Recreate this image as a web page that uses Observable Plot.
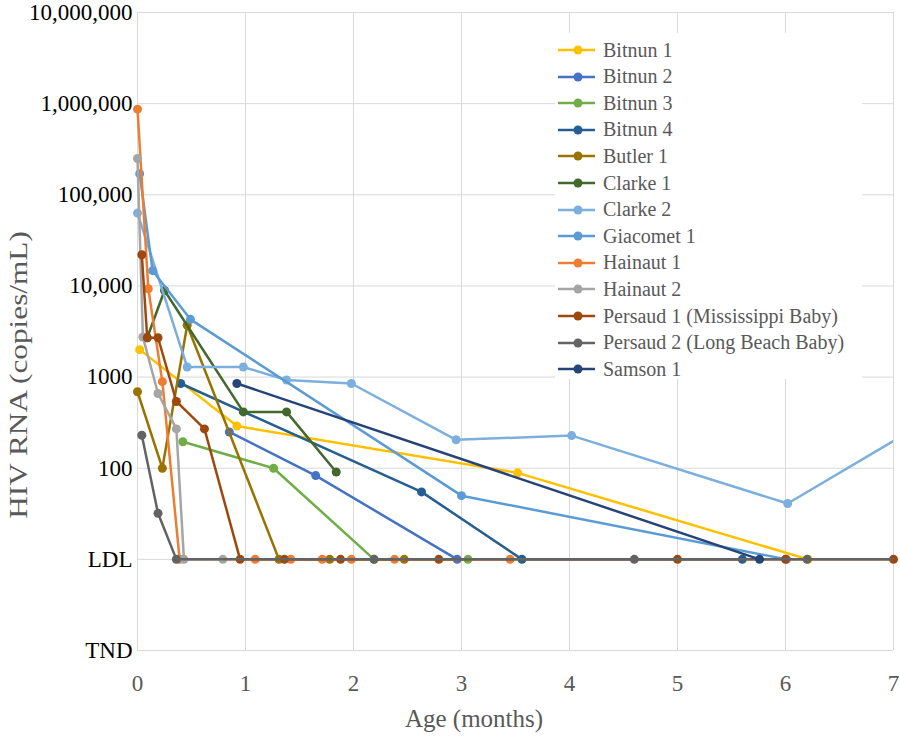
<!DOCTYPE html>
<html><head><meta charset="utf-8">
<script src="https://cdn.jsdelivr.net/npm/d3@7"></script>
<script src="https://cdn.jsdelivr.net/npm/@observablehq/plot@0.6"></script>
<style>
body{margin:0;background:#fff;}
#wrap{position:relative;width:900px;height:736px;font-family:'Liberation Serif','DejaVu Serif',serif;overflow:hidden;}
#wrap svg text{font-family:'Liberation Serif','DejaVu Serif',serif;}
#legend{position:absolute;left:555px;top:33px;width:307px;height:346px;background:#fff;}
.item{position:absolute;left:0;height:26px;display:flex;align-items:center;font-size:20px;color:#595959;white-space:nowrap;}
.item svg{margin-right:4px;}
.title{position:absolute;font-size:25px;color:#595959;white-space:nowrap;}
</style></head><body><div id="wrap"></div>
<script>
// ---- data (age in months, HIV RNA copies/mL; LDL plotted as 10, TND as 1) ----
const seriesNames = ["Bitnun 1","Bitnun 2","Bitnun 3","Bitnun 4","Butler 1","Clarke 1","Clarke 2","Giacomet 1","Hainaut 1","Hainaut 2","Persaud 1 (Mississippi Baby)","Persaud 2 (Long Beach Baby)","Samson 1"];
const seriesColors = ["#FFC000","#4472C4","#70AD47","#255E91","#997300","#43682B","#7CAFDD","#5B9BD5","#ED7D31","#A5A5A5","#9E480E","#636363","#264478"];
const LDL = 10, TND = 1;
const bitnun1 = [[0.02,2000],[0.92,290],[3.52,89],[6.21,LDL]];
const bitnun2 = [[0.85,250],[1.65,83],[2.96,LDL]];
const bitnun3 = [[0.42,195],[1.26,100],[2.19,LDL],[3.06,LDL]];
const bitnun4 = [[0.40,850],[2.63,55],[3.56,LDL],[5.60,LDL]];
const butler1 = [[0.0,690],[0.23,100],[0.46,3700],[1.31,LDL],[1.78,LDL],[2.47,LDL]];
const clarke1 = [[0.09,2700],[0.25,8900],[0.98,415],[1.38,415],[1.84,91]];
const clarke2 = [[0.0,63000],[0.46,1290],[0.98,1290],[1.38,930],[1.98,850],[2.95,205],[4.02,228],[6.02,41],[8.0,1000]];
const giacomet1 = [[0.02,170000],[0.14,14700],[0.49,4300],[3.0,50],[6.01,LDL]];
const hainaut1 = [[0.0,870000],[0.10,9300],[0.23,890],[0.39,LDL],[1.09,LDL],[1.42,LDL],[1.71,LDL],[1.98,LDL],[2.38,LDL],[3.45,LDL]];
const hainaut2 = [[0.0,250000],[0.05,2750],[0.19,660],[0.36,270],[0.43,LDL],[0.79,LDL]];
const persaud1 = [[0.04,22000],[0.09,2700],[0.19,2700],[0.36,540],[0.62,270],[0.95,LDL],[1.36,LDL],[1.88,LDL],[2.79,LDL],[5.0,LDL],[6.0,LDL],[7.0,LDL]];
const persaud2 = [[0.04,230],[0.19,32],[0.36,LDL],[2.19,LDL],[4.6,LDL],[6.2,LDL],[9.0,LDL]];
const samson1 = [[0.92,850],[5.76,LDL]];
const seriesData = [bitnun1,bitnun2,bitnun3,bitnun4,butler1,clarke1,clarke2,giacomet1,hainaut1,hainaut2,persaud1,persaud2,samson1];

const yTickValues = [TND, LDL, 100, 1000, 10000, 100000, 1000000, 10000000];
const yTickLabels = ["TND","LDL","100","1000","10,000","100,000","1,000,000","10,000,000"];
const xTickValues = [0,1,2,3,4,5,6,7];

// ---- build ----
const rows = [];
seriesData.forEach((arr, i) => arr.forEach(([age, rna]) => rows.push({series: seriesNames[i], age, rna})));
const yLabel = new Map(yTickValues.map((v, i) => [v, yTickLabels[i]]));
const XMAX = 7;
const FONT = "'Liberation Serif','DejaVu Serif',serif";

const marks = [
  Plot.gridX(xTickValues, {stroke: "#d9d9d9", strokeOpacity: 1, strokeWidth: 1}),
  Plot.gridY(yTickValues, {stroke: "#d9d9d9", strokeOpacity: 1, strokeWidth: 1}),
];
seriesNames.forEach((name, i) => {
  const d = rows.filter(r => r.series === name);
  const beyond = d.some(r => r.age > XMAX);
  marks.push(Plot.line(d, {x: "age", y: "rna", stroke: seriesColors[i], strokeWidth: 2.5, clip: beyond ? "frame" : false}));
  marks.push(Plot.dot(d.filter(r => r.age <= XMAX), {x: "age", y: "rna", r: 4.5, fill: seriesColors[i], stroke: "none"}));
});
marks.push(Plot.axisY(yTickValues, {tickSize: 0, tickPadding: 5, tickFormat: v => yLabel.get(v), fontSize: 23, fill: "#000", label: null}));
marks.push(Plot.axisX(xTickValues, {tickSize: 0, tickPadding: 24, tickFormat: d => String(d), fontSize: 23, fill: "#595959", label: null}));

const chart = Plot.plot({
  width: 900, height: 736,
  marginLeft: 137, marginRight: 7, marginTop: 12, marginBottom: 86,
  style: {fontFamily: FONT, background: "#fff", overflow: "visible"},
  x: {domain: [0, XMAX], type: "linear"},
  y: {type: "log", domain: [TND, 10000000]},
  marks
});

const wrap = document.getElementById("wrap");
wrap.appendChild(chart);

// axis titles
const xt = document.createElement("div");
xt.className = "title"; xt.textContent = "Age (months)";
xt.style.left = "474px"; xt.style.top = "719px"; xt.style.transform = "translate(-50%,-50%)";
wrap.appendChild(xt);
const yt = document.createElement("div");
yt.className = "title"; yt.textContent = "HIV RNA (copies/mL)";
yt.style.left = "19px"; yt.style.top = "375px"; yt.style.transform = "translate(-50%,-50%) rotate(-90deg) scale(1.25,1)";
wrap.appendChild(yt);

// legend
const lg = document.createElement("div");
lg.id = "legend";
seriesNames.forEach((name, i) => {
  const it = document.createElement("div");
  it.className = "item";
  it.style.top = (17 + 26.6 * i - 13) + "px";
  it.innerHTML = `<svg width="44" height="26"><line x1="3" x2="40" y1="13" y2="13" stroke="${seriesColors[i]}" stroke-width="2.5"/><circle cx="23" cy="13" r="4.5" fill="${seriesColors[i]}"/></svg><span></span>`;
  it.querySelector("span").textContent = name;
  lg.appendChild(it);
});
wrap.appendChild(lg);
</script>
</body></html>
